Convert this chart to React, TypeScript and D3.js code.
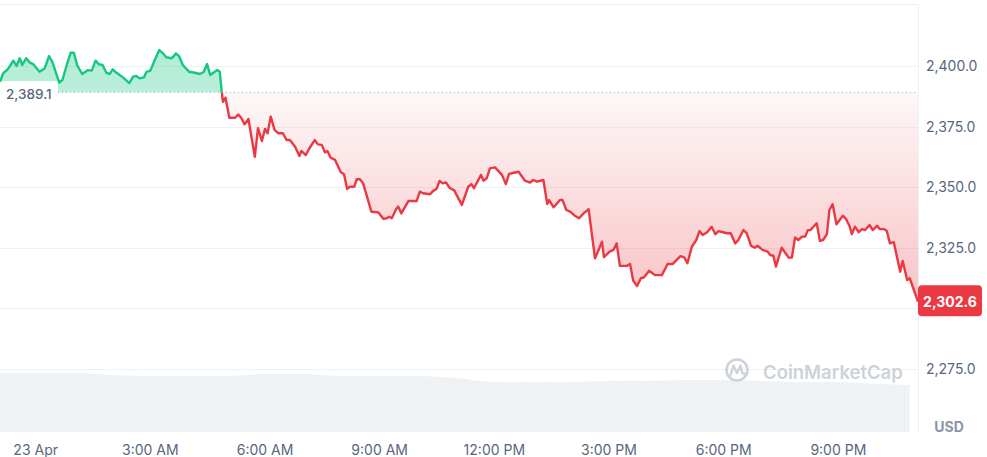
import React from 'react';
import * as d3 from 'd3';

// minutes from 23 Apr 00:00
const times = [
  -56, -51, -44, -35, -30, -25, -21, -15, -9, -4, 6, 14, 21, 26, 37, 42, 48, 55, 60, 65,
  73, 82, 88, 94, 99, 105, 111, 116, 121, 127, 137, 147, 153, 158, 163, 170, 174, 180, 187, 194,
  200, 205, 213, 216, 220, 225, 231, 241, 250, 258, 264, 269, 274, 281, 285, 289, 292,
  294, 298, 304, 313, 318, 323, 328, 334, 344, 349, 355, 360, 364, 369, 375, 381, 388, 394, 399, 407,
  414, 417, 424, 429, 438, 443, 449, 454, 458, 463, 470, 479, 484, 489, 493, 500, 504, 509, 514, 527,
  538, 546, 551, 555, 559, 566, 569, 574, 585, 598, 603, 608, 619, 624, 629, 634, 639, 644, 650, 657,
  669, 679, 684, 688, 699, 703, 708, 713, 721, 732, 738, 743, 751, 758, 768, 776, 781, 787, 797, 803,
  806, 813, 823, 827, 833, 839, 847, 853, 860, 868, 878, 889, 892, 901, 907, 912, 917, 928, 933, 938,
  944, 950, 955, 963, 972, 983, 992, 1000, 1012, 1018, 1023, 1030, 1037, 1042, 1047, 1054, 1061, 1067, 1072, 1079,
  1085, 1091, 1098, 1103, 1111, 1116, 1123, 1129, 1133, 1141, 1149, 1153, 1158, 1162, 1171, 1182, 1187, 1192, 1197, 1203,
  1208, 1212, 1216, 1226, 1231, 1236, 1242, 1246, 1251, 1257, 1267, 1272, 1278, 1281, 1286, 1292, 1297, 1302, 1309, 1314,
  1321, 1325, 1332, 1336, 1341, 1347, 1357, 1361, 1368, 1372, 1385,
];

const prices = [
  2393.5, 2397.0, 2398.6, 2402.2, 2400.0, 2403.2, 2400.4, 2403.2, 2401.4, 2400.8, 2397.6, 2399.0, 2404.1, 2401.8, 2393.1, 2394.2, 2399.7, 2405.5, 2405.5, 2400.4,
  2396.7, 2398.3, 2398.1, 2402.2, 2400.8, 2400.4, 2397.2, 2396.7, 2398.6, 2397.2, 2395.3, 2392.9, 2395.6, 2395.9, 2394.9, 2395.3, 2397.6, 2398.1, 2402.5, 2406.6,
  2405.2, 2403.6, 2403.2, 2403.8, 2405.2, 2404.1, 2400.4, 2397.6, 2397.2, 2396.7, 2397.6, 2400.8, 2396.3, 2397.6, 2398.3, 2397.6, 2389.4,
  2385.2, 2386.9, 2378.6, 2378.6, 2380.0, 2378.4, 2375.9, 2378.1, 2362.5, 2374.3, 2369.0, 2374.0, 2372.2, 2379.1, 2373.6, 2372.2, 2372.2, 2369.4, 2369.4, 2366.7,
  2362.8, 2364.9, 2363.2, 2365.7, 2369.4, 2367.6, 2367.4, 2364.3, 2364.9, 2362.1, 2361.2, 2356.1, 2355.3, 2349.2, 2350.1, 2350.1, 2353.2, 2353.2, 2351.5, 2339.8,
  2339.5, 2336.8, 2337.1, 2337.7, 2337.1, 2340.9, 2341.9, 2339.1, 2344.2, 2344.2, 2348.1, 2347.4, 2347.0, 2348.4, 2349.2, 2352.5, 2351.5, 2351.9, 2349.6, 2348.6,
  2342.6, 2350.1, 2351.2, 2349.5, 2355.0, 2352.6, 2353.6, 2357.7, 2358.1, 2355.0, 2351.2, 2355.4, 2355.9, 2356.3, 2352.6, 2351.8, 2352.9, 2352.2, 2352.9, 2343.0,
  2344.6, 2341.6, 2344.6, 2344.6, 2340.5, 2339.8, 2338.0, 2337.1, 2339.1, 2340.8, 2320.5, 2327.4, 2321.0, 2323.3, 2324.0, 2326.7, 2317.4, 2317.4, 2318.2, 2311.3,
  2309.1, 2312.3, 2312.7, 2315.4, 2313.6, 2313.6, 2318.2, 2318.2, 2321.4, 2320.9, 2318.5, 2325.3, 2328.1, 2331.8, 2330.2, 2331.3, 2333.6, 2330.5, 2331.8, 2331.3,
  2330.9, 2330.9, 2326.7, 2328.1, 2332.2, 2330.9, 2325.7, 2324.9, 2325.7, 2324.0, 2323.3, 2321.9, 2321.6, 2317.1, 2324.9, 2320.8, 2320.8, 2329.1, 2328.1, 2329.5,
  2329.5, 2332.2, 2332.2, 2335.0, 2327.7, 2328.1, 2330.5, 2340.5, 2342.9, 2334.6, 2338.1, 2336.8, 2333.6, 2330.5, 2333.6, 2331.3, 2332.6, 2332.2, 2334.3, 2332.2,
  2334.0, 2332.6, 2332.6, 2331.8, 2326.7, 2327.2, 2315.0, 2319.4, 2311.6, 2312.3, 2302.6,
];

const volumeTimes = [-56, 0, 60, 120, 180, 240, 300, 360, 420, 480, 540, 600, 660, 720, 780, 840, 900, 960, 1020, 1080, 1140, 1200, 1260, 1320, 1372];
const volumes = [59, 59, 59, 57, 56, 56, 56, 58, 58, 56, 56, 56, 54, 50, 50, 50, 51, 51, 52, 52, 51, 50, 50, 48, 47];

const openPrice = 2389.1;
const lastPrice = 2302.6;

const yTickValues = [2275, 2300, 2325, 2350, 2375, 2400];
const xTickValues = [0, 180, 360, 540, 720, 900, 1080, 1260];
const xTickLabels = ['23 Apr', '3:00 AM', '6:00 AM', '9:00 AM', '12:00 PM', '3:00 PM', '6:00 PM', '9:00 PM'];

const App = () => {
  const width = 987;
  const height = 457;
  const plotRight = 918;
  const volBottom = 432;
  const green = '#16c784';
  const red = '#ea3943';
  const textColor = '#58667e';
  const gridColor = '#eff2f5';
  const font = 'Inter, sans-serif';

  const xScale = d3.scaleLinear().domain([-56, 1385]).range([0, plotRight]);
  const yScale = d3.scaleLinear().domain([2275, 2400]).range([368.5, 66]);
  const volScale = d3.scaleLinear().domain([0, 60]).range([volBottom, volBottom - 60]);

  const data = times.map((t, i) => ({ t, p: prices[i] }));
  const baseY = yScale(openPrice);

  const line = d3.line<{ t: number, p: number }>().x(d => xScale(d.t)).y(d => yScale(d.p));
  const area = d3.area<{ t: number, p: number }>().x(d => xScale(d.t)).y0(baseY).y1(d => yScale(d.p));
  const volData = volumeTimes.map((t, i) => ({ t, v: volumes[i] }));
  const volArea = d3.area<{ t: number, v: number }>()
    .x(d => xScale(d.t)).y0(volBottom).y1(d => volScale(d.v)).curve(d3.curveMonotoneX);

  const lastY = yScale(lastPrice);

  return (
    <div style={{ position: 'absolute', left: 0, top: 0 }}>
      <svg width={width} height={height} style={{ display: 'block', background: '#fff' }} fontFamily={font}>
        <defs>
          <clipPath id="above"><rect x={0} y={0} width={plotRight} height={baseY} /></clipPath>
          <clipPath id="below"><rect x={0} y={baseY} width={plotRight} height={height - baseY} /></clipPath>
          <linearGradient id="redFill" gradientUnits="userSpaceOnUse" x1={0} y1={baseY} x2={0} y2={lastY}>
            <stop offset="0%" stopColor={red} stopOpacity={0.04} />
            <stop offset="100%" stopColor={red} stopOpacity={0.3} />
          </linearGradient>
          <linearGradient id="greenFill" gradientUnits="userSpaceOnUse" x1={0} y1={48} x2={0} y2={baseY}>
            <stop offset="0%" stopColor={green} stopOpacity={0.33} />
            <stop offset="100%" stopColor={green} stopOpacity={0.3} />
          </linearGradient>
          <pattern id="volBars" width={3} height={10} patternUnits="userSpaceOnUse">
            <rect width={3} height={10} fill="#eef1f4" />
            <rect width={0.6} height={10} fill="#f5f6f8" />
          </pattern>
        </defs>

        {/* frame + grid */}
        <line x1={0} x2={plotRight} y1={4.5} y2={4.5} stroke={gridColor} />
        <line x1={plotRight + 0.5} x2={plotRight + 0.5} y1={4} y2={volBottom} stroke={gridColor} />
        {yTickValues.map(v => (
          <line key={v} x1={0} x2={plotRight} y1={Math.round(yScale(v)) + 0.5} y2={Math.round(yScale(v)) + 0.5} stroke={gridColor} />
        ))}

        {/* volume */}
        <path d={volArea(volData) || ''} fill="url(#volBars)" />

        {/* watermark */}
        <g opacity={0.9}>
          <circle cx={737} cy={370} r={10.5} fill="none" stroke="#c9ced6" strokeWidth={2.6} />
          <path d="M730.5,375 L733.5,365.5 L737,373 L740.5,365.5 L742,372 Q743,375 745.5,373.5" fill="none" stroke="#c9ced6" strokeWidth={2.4} strokeLinejoin="round" strokeLinecap="round" />
          <text x={763} y={378.5} fontSize={18.5} fontWeight={600} fill="#c9ced6">CoinMarketCap</text>
        </g>

        {/* areas */}
        <path d={area(data) || ''} fill="url(#greenFill)" clipPath="url(#above)" />
        <path d={area(data) || ''} fill="url(#redFill)" clipPath="url(#below)" />

        {/* open price label */}
        <rect x={0} y={81} width={58} height={24} fill="#fff" />
        <text x={6} y={99} fontSize={13.5} fontWeight={500} fill={textColor}>2,389.1</text>
        <line x1={58} x2={plotRight} y1={baseY} y2={baseY} stroke="#a6b0c3" strokeDasharray="1 3" />

        {/* price line */}
        <path d={line(data) || ''} fill="none" stroke={green} strokeWidth={2.4} strokeLinejoin="round" clipPath="url(#above)" />
        <path d={line(data) || ''} fill="none" stroke={red} strokeWidth={2.4} strokeLinejoin="round" clipPath="url(#below)" />

        {/* y axis labels */}
        {yTickValues.filter(v => Math.abs(yScale(v) - lastY) > 16).map(v => (
          <text key={v} x={926} y={yScale(v) + 5} fontSize={14} fill={textColor}>{d3.format(',.1f')(v)}</text>
        ))}
        <rect x={plotRight} y={lastY - 16.5} width={64} height={31} rx={4} fill={red} />
        <text x={plotRight + 32} y={lastY + 5} fontSize={14} fontWeight={700} fill="#fff" textAnchor="middle">{d3.format(',.1f')(lastPrice)}</text>
        <text x={949} y={432} fontSize={14} fontWeight={700} fill="#8a94a6" textAnchor="middle">USD</text>

        {/* x axis labels */}
        {xTickValues.map((t, i) => (
          <text key={t} x={xScale(t)} y={455} fontSize={14} fill={textColor} textAnchor="middle">{xTickLabels[i]}</text>
        ))}
      </svg>
    </div>
  );
};

export default App;
